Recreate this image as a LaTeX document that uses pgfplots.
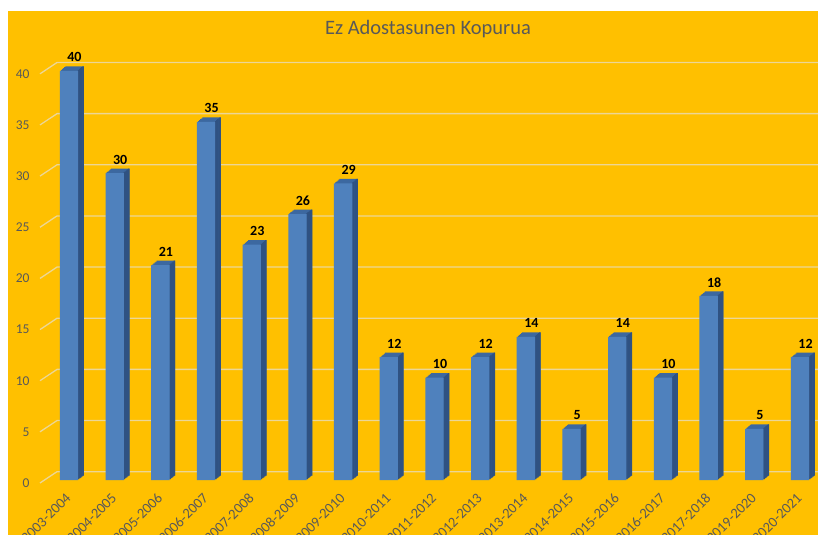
\documentclass[border=0pt]{standalone}
\usepackage{pgfplots}
\pgfplotsset{compat=1.18}
\usepackage{pgfplotstable}
\usepackage{fontspec}
\setmainfont{Carlito}

\definecolor{bgorange}{HTML}{FFC000}
\definecolor{gridcol}{RGB}{236,214,150}
\definecolor{txtgray}{HTML}{595959}
\definecolor{barfront}{RGB}{79,129,189}
\definecolor{bartop}{RGB}{60,104,160}
\definecolor{barside}{RGB}{47,82,130}

% agreements per season
\pgfplotstableread{
x v
0 40
1 30
2 21
3 35
4 23
5 26
6 29
7 12
8 10
9 12
10 14
11 5
12 14
13 10
14 18
15 5
16 12
}\counts

\begin{document}
\begin{tikzpicture}
\useasboundingbox (0,0) rectangle (818bp,535bp);
\clip (0,0) rectangle (818bp,535bp);
\fill[white] (0,0) rectangle (818bp,535bp);
\fill[bgorange] (8bp,0) rectangle (818bp,524.3bp);

% back wall and side wall grid lines
\foreach \v in {0,5,...,40}{
  \draw[gridcol, line width=1.3bp]
    (40bp,{(52+10.23*\v)*1bp}) -- (57bp,{(63.3+10.23*\v)*1bp}) -- (818bp,{(63.3+10.23*\v)*1bp});
}

\node[text=txtgray, font=\fontsize{20.5bp}{24bp}\selectfont] at (428bp,506bp) {Ez Adostasunen Kopurua};

\begin{axis}[
  scale only axis,
  anchor=south west,
  at={(46.15bp,55bp)},
  width=776.7bp, height=409.2bp,
  xmin=-0.5, xmax=16.5,
  ymin=0, ymax=40,
  clip=false,
  axis line style={draw=none},
  tick style={draw=none},
  ytick={0,5,...,40},
  xtick={0,...,16},
  xticklabels={2003-2004,2004-2005,2005-2006,2006-2007,2007-2008,2008-2009,2009-2010,2010-2011,2011-2012,2012-2013,2013-2014,2014-2015,2015-2016,2016-2017,2017-2018,2019-2020,2020-2021},
  /pgf/number format/assume math mode=true,
  yticklabel style={anchor=east, inner sep=0pt, xshift=-16.5bp, yshift=-3bp,
    text=txtgray, font=\fontsize{13.5bp}{15bp}\selectfont},
  xticklabel style={xshift=-4bp, yshift=-12bp, rotate=45, anchor=north east, inner sep=0pt,
    text=txtgray, font=\fontsize{14.5bp}{16bp}\selectfont},
]
% top faces
\pgfplotsinvokeforeach{5,4,3,2,1}{
  \addplot[ybar, fill=bartop, draw=none, bar width=18.3bp,
    bar shift={#1*1.1bp}, yshift={#1*0.9bp}] table[x=x,y=v]{\counts};
}
% side faces
\pgfplotsinvokeforeach{1,2,3,4,5}{
  \addplot[ybar, fill=barside, draw=none, bar width=1.5bp,
    bar shift={9.15bp+(#1-0.5)*1.1bp}, yshift={#1*0.9bp}] table[x=x,y=v]{\counts};
}
% front faces
\addplot[ybar, fill=barfront, draw=none, bar width=18.3bp, bar shift=0bp,
  nodes near coords,
  nodes near coords style={font=\bfseries\fontsize{14bp}{16bp}\selectfont, text=black,
    anchor=center, xshift=5.5bp, yshift=13.5bp}]
  table[x=x,y=v]{\counts};
\end{axis}
\end{tikzpicture}
\end{document}
